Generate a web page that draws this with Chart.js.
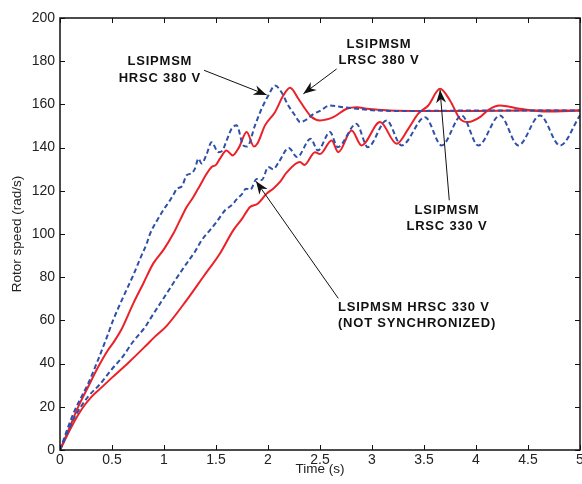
<!DOCTYPE html>
<html>
<head>
<meta charset="utf-8">
<script src="https://cdn.jsdelivr.net/npm/chart.js@4.4.1/dist/chart.umd.min.js"></script>
<style>
  html, body { margin: 0; padding: 0; background: #fff; }
  #wrap { width: 582px; height: 484px; }
</style>
</head>
<body>
<div id="wrap"><canvas id="c" width="582" height="484"></canvas></div>
<script>
// ---- Data (time in s, rotor speed in rad/s) ----
const hrsc380T = [0, 0.04, 0.08, 0.144, 0.208, 0.272, 0.368, 0.449, 0.51, 0.6, 0.705, 0.77, 0.833, 0.865, 0.93, 0.993, 1.058, 1.1, 1.122, 1.17, 1.218, 1.26, 1.3, 1.33, 1.362, 1.41, 1.458, 1.522, 1.56, 1.6, 1.65, 1.698, 1.763, 1.8, 1.875, 1.939, 2.003, 2.067, 2.13, 2.195, 2.26, 2.31, 2.37, 2.436, 2.5, 2.596, 2.724, 2.853, 3.0, 3.173, 3.5, 4.0, 4.5, 5.0];
const hrsc380V = [0, 5.5, 10.9, 18.6, 24.8, 30.9, 42, 52, 60, 70, 81, 88.5, 95.5, 100, 106, 111, 115.6, 119, 121, 122, 127.2, 128, 130.5, 134.9, 132.6, 137, 142.5, 137.9, 138.5, 143, 148.7, 150.3, 141, 140.5, 150.3, 158, 164.1, 168.7, 165.6, 159.5, 154.9, 151.8, 153, 155.5, 157, 159.5, 158.7, 158, 157.3, 157, 157, 157.2, 157.2, 157.2];

const lrsc380T = [0, 0.08, 0.176, 0.272, 0.368, 0.465, 0.51, 0.593, 0.705, 0.8, 0.897, 1.0, 1.09, 1.154, 1.218, 1.282, 1.346, 1.41, 1.458, 1.5, 1.538, 1.6, 1.66, 1.72, 1.795, 1.865, 1.9, 1.971, 2.067, 2.147, 2.212, 2.292, 2.356, 2.42, 2.5, 2.628, 2.757, 2.853, 2.95, 3.173, 3.5, 4.0, 4.5, 5.0];
const lrsc380V = [0, 9, 20.1, 29.4, 38.5, 46.5, 49.5, 56, 67.9, 77, 86.4, 93, 100.2, 106.4, 112.5, 117.1, 122.5, 127.9, 131, 132, 134.9, 138.7, 136.4, 140, 147.2, 140.5, 142, 150.3, 156.4, 164.1, 167.7, 162.6, 158, 154.1, 152.6, 154.1, 158, 158.7, 158, 157.2, 157, 157, 157.2, 157.2];

const hrsc330T = [0, 0.08, 0.144, 0.272, 0.385, 0.5, 0.6, 0.7, 0.82, 0.865, 1.026, 1.12, 1.218, 1.3, 1.362, 1.442, 1.506, 1.587, 1.65, 1.698, 1.75, 1.79, 1.83, 1.89, 1.94, 2.003, 2.05, 2.1, 2.2, 2.28, 2.41, 2.48, 2.596, 2.67, 2.85, 2.96, 3.14, 3.285, 3.51, 3.67, 3.862, 4.022, 4.23, 4.407, 4.615, 4.808, 5.0];
const hrsc330V = [0, 9, 15.5, 24.8, 30.5, 37.5, 43, 50, 57, 60.5, 72.5, 79.5, 86.4, 92, 97.1, 101.8, 105.6, 111, 113.3, 116, 118.5, 121, 120.5, 125.5, 125, 131, 130, 133, 139.8, 135.6, 144.1, 138.7, 147.2, 140.2, 151, 140.2, 152.6, 141, 154.1, 141, 154.9, 141, 154.9, 141, 154.9, 141, 155];

const lrsc330T = [0, 0.112, 0.21, 0.3, 0.4, 0.5, 0.66, 0.82, 0.913, 1.026, 1.218, 1.378, 1.538, 1.667, 1.75, 1.827, 1.9, 1.987, 2.05, 2.115, 2.18, 2.308, 2.35, 2.452, 2.5, 2.612, 2.676, 2.804, 2.9, 3.077, 3.237, 3.349, 3.445, 3.541, 3.654, 3.75, 3.846, 3.926, 4.038, 4.12, 4.23, 4.42, 4.68, 5.0];
const lrsc330V = [0, 10.9, 19, 24.5, 29, 33.5, 40.5, 48, 52.5, 57.5, 69.4, 80.2, 91, 101.8, 107, 112.5, 114, 118.7, 121, 124.1, 128.5, 133.3, 132, 137.9, 137, 143.3, 137.9, 147.9, 141, 151.8, 141.8, 148.7, 155.7, 159.5, 167.2, 161.8, 153.3, 151.8, 154.1, 157.5, 159.5, 158, 156.7, 157.2];

const xTickValues = [0, 0.5, 1, 1.5, 2, 2.5, 3, 3.5, 4, 4.5, 5];
const yTickValues = [0, 20, 40, 60, 80, 100, 120, 140, 160, 180, 200];

// Annotation texts with anchor/arrow points in data units (time, speed)
const noteTexts = [
  ['LSIPMSM', 'HRSC 380 V'],
  ['LSIPMSM', 'LRSC 380 V'],
  ['LSIPMSM', 'LRSC 330 V'],
  ['LSIPMSM HRSC 330 V', '(NOT SYNCHRONIZED)']
];
const noteAnchors = [[0.96, 175.9], [3.067, 184.0], [3.72, 107.3], [2.673, 62.3]];
const noteAlign = ['center', 'center', 'center', 'left'];
const arrowFrom = [[1.385, 175.8], [2.66, 176.4], [3.743, 115.6], [2.676, 70.2]];
const arrowTo = [[1.987, 164.4], [2.34, 164.9], [3.654, 166.7], [1.885, 124.4]];

const RED = '#ec2027';
const BLUE = '#2f50a8';

function pts(T, V) { return T.map((t, i) => ({ x: t, y: V[i] })); }

const framePlugin = {
  id: 'frame',
  afterDraw(chart) {
    const { ctx, chartArea: a, scales } = chart;
    ctx.save();
    ctx.strokeStyle = '#111';
    ctx.lineWidth = 1.5;
    ctx.strokeRect(a.left, a.top, a.right - a.left, a.bottom - a.top);
    ctx.lineWidth = 1;
    const L = 5;
    ctx.beginPath();
    xTickValues.forEach(v => {
      const px = Math.round(scales.x.getPixelForValue(v)) + 0.5;
      ctx.moveTo(px, a.bottom); ctx.lineTo(px, a.bottom - L);
      ctx.moveTo(px, a.top); ctx.lineTo(px, a.top + L);
    });
    yTickValues.forEach(v => {
      const py = Math.round(scales.y.getPixelForValue(v)) + 0.5;
      ctx.moveTo(a.left, py); ctx.lineTo(a.left + L, py);
      ctx.moveTo(a.right, py); ctx.lineTo(a.right - L, py);
    });
    ctx.stroke();
    ctx.restore();
  }
};

function arrowHead(ctx, x0, y0, x1, y1) {
  const ang = Math.atan2(y1 - y0, x1 - x0);
  const len = 13, half = 5, notch = 9;
  const c = Math.cos(ang), s = Math.sin(ang);
  const bx = x1 - len * c, by = y1 - len * s;
  const nx = x1 - notch * c, ny = y1 - notch * s;
  ctx.beginPath();
  ctx.moveTo(x1, y1);
  ctx.lineTo(bx - half * s, by + half * c);
  ctx.lineTo(nx, ny);
  ctx.lineTo(bx + half * s, by - half * c);
  ctx.closePath();
  ctx.fill();
}

const notePlugin = {
  id: 'notes',
  afterDraw(chart) {
    const { ctx, scales } = chart;
    const X = v => scales.x.getPixelForValue(v);
    const Y = v => scales.y.getPixelForValue(v);
    ctx.save();
    ctx.fillStyle = '#111';
    ctx.strokeStyle = '#111';
    ctx.lineWidth = 1;
    for (let i = 0; i < noteTexts.length; i++) {
      const x0 = X(arrowFrom[i][0]), y0 = Y(arrowFrom[i][1]);
      const x1 = X(arrowTo[i][0]), y1 = Y(arrowTo[i][1]);
      ctx.beginPath(); ctx.moveTo(x0, y0); ctx.lineTo(x1, y1); ctx.stroke();
      arrowHead(ctx, x0, y0, x1, y1);
    }
    ctx.font = 'bold 13px "Liberation Sans", Arial, sans-serif';
    try { ctx.letterSpacing = '0.8px'; } catch (e) {}
    ctx.textBaseline = 'middle';
    const lh = 16.5;
    for (let i = 0; i < noteTexts.length; i++) {
      const lines = noteTexts[i];
      const cx = X(noteAnchors[i][0]), cy = Y(noteAnchors[i][1]);
      const startY = cy - (lines.length - 1) * lh / 2;
      lines.forEach((t, k) => {
        const w = ctx.measureText(t).width;
        const x = noteAlign[i] === 'center' ? cx - w / 2 : cx;
        ctx.textAlign = 'left';
        ctx.fillText(t, x, startY + k * lh);
      });
    }
    ctx.restore();
  }
};

const tickFont = { family: '"Liberation Sans", Arial, sans-serif', size: 14 };
const titleFont = { family: '"Liberation Sans", Arial, sans-serif', size: 13.5 };

new Chart(document.getElementById('c'), {
  type: 'line',
  data: {
    datasets: [
      { label: 'LSIPMSM HRSC 380 V', data: pts(hrsc380T, hrsc380V), borderColor: BLUE, borderDash: [5, 3] },
      { label: 'LSIPMSM HRSC 330 V', data: pts(hrsc330T, hrsc330V), borderColor: BLUE, borderDash: [5, 3] },
      { label: 'LSIPMSM LRSC 380 V', data: pts(lrsc380T, lrsc380V), borderColor: RED },
      { label: 'LSIPMSM LRSC 330 V', data: pts(lrsc330T, lrsc330V), borderColor: RED }
    ]
  },
  options: {
    responsive: false,
    animation: false,
    devicePixelRatio: 1,
    layout: { padding: { top: 18, right: 2, left: 0, bottom: 0 } },
    plugins: { legend: { display: false }, tooltip: { enabled: false } },
    elements: {
      point: { radius: 0 },
      line: { borderWidth: 2, cubicInterpolationMode: 'monotone', fill: false }
    },
    scales: {
      x: {
        type: 'linear', min: 0, max: 5,
        afterBuildTicks(s) { s.ticks = xTickValues.map(v => ({ value: v })); },
        ticks: { font: tickFont, color: '#222', padding: 2, maxRotation: 0, autoSkip: false,
                 callback: v => String(v) },
        grid: { display: false, drawTicks: false },
        border: { display: false },
        title: { display: true, text: 'Time (s)', font: titleFont, color: '#222', padding: { top: 0, bottom: 7 } },
        afterFit(s) { s.height = 34; s.paddingLeft = 0; s.paddingRight = 0; }
      },
      y: {
        type: 'linear', min: 0, max: 200,
        afterBuildTicks(s) { s.ticks = yTickValues.map(v => ({ value: v })); },
        ticks: { font: tickFont, color: '#222', padding: 5, callback: v => String(v) },
        grid: { display: false, drawTicks: false },
        border: { display: false },
        title: { display: true, text: 'Rotor speed (rad/s)', font: titleFont, color: '#222', padding: { top: 9, bottom: 4 } },
        afterFit(s) { s.width = 60; s.paddingTop = 0; s.paddingBottom = 0; }
      }
    }
  },
  plugins: [framePlugin, notePlugin]
});
</script>
</body>
</html>
